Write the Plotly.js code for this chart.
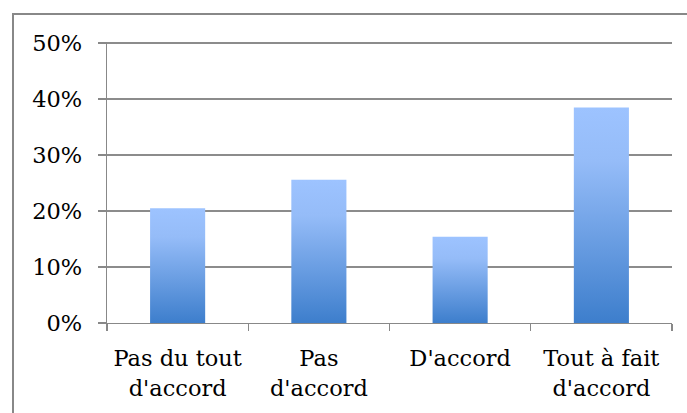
<!DOCTYPE html>
<html>
<head>
<meta charset="utf-8">
<script src="https://cdn.plot.ly/plotly-3.0.1.min.js"></script>
<style>
html,body{margin:0;padding:0;background:#fff;}
#frame{position:absolute;left:12px;top:13px;width:700px;height:420px;border-left:2px solid #888;border-top:2px solid #888;box-sizing:border-box;pointer-events:none;z-index:5;}
#chart{width:687px;height:413px;}
</style>
</head>
<body>
<div id="frame"></div>
<div id="chart"></div>
<script>
var categories = ["Pas du tout<br>d'accord", "Pas<br>d'accord", "D'accord", "Tout à fait<br>d'accord"];
var values = [0.205, 0.256, 0.154, 0.385];
var yTickValues = [0, 0.1, 0.2, 0.3, 0.4, 0.5];
var yTickLabels = ["0%", "10%", "20%", "30%", "40%", "50%"];

var font = {family: "DejaVu Serif, serif", size: 22.5, color: "#000"};

var trace = {
  type: "bar",
  x: categories,
  y: values,
  marker: {color: "#6a9ee8", line: {width: 0}},
  hoverinfo: "none"
};

var layout = {
  width: 687, height: 413,
  margin: {l: 107, r: 15, t: 42, b: 90},
  paper_bgcolor: "#fff",
  plot_bgcolor: "#fff",
  showlegend: false,
  bargap: 0.61,
  font: font,
  xaxis: {
    type: "category",
    tickson: "boundaries",
    ticks: "outside",
    ticklen: 7,
    tickcolor: "#888",
    tickwidth: 1.3,
    showline: true,
    linecolor: "#888",
    linewidth: 1.3,
    showgrid: false,
    tickfont: font,
    ticklabelstandoff: 15,
    fixedrange: true
  },
  yaxis: {
    range: [0, 0.502],
    tickvals: yTickValues,
    ticktext: yTickLabels,
    ticks: "outside",
    ticklen: 8,
    tickcolor: "#888",
    tickwidth: 1.3,
    showline: true,
    linecolor: "#888",
    linewidth: 1.3,
    showgrid: true,
    gridcolor: "#8c8c8c",
    gridwidth: 1.3,
    zeroline: false,
    tickfont: font,
    ticklabelstandoff: 11,
    fixedrange: true
  }
};

Plotly.newPlot("chart", [trace], layout, {staticPlot: true, displayModeBar: false}).then(function(gd){
  var svg = gd.querySelector("svg.main-svg");
  var ns = "http://www.w3.org/2000/svg";
  var defs = svg.querySelector("defs") || svg.insertBefore(document.createElementNS(ns, "defs"), svg.firstChild);
  var grad = document.createElementNS(ns, "linearGradient");
  grad.setAttribute("id", "barGrad");
  grad.setAttribute("x1", "0"); grad.setAttribute("y1", "0");
  grad.setAttribute("x2", "0"); grad.setAttribute("y2", "1");
  [["0", "#9dc3ff"], ["0.25", "#95bcf8"], ["1", "#3d7ecc"]].forEach(function(s){
    var st = document.createElementNS(ns, "stop");
    st.setAttribute("offset", s[0]);
    st.setAttribute("stop-color", s[1]);
    grad.appendChild(st);
  });
  defs.appendChild(grad);
  gd.querySelectorAll(".bars .point path").forEach(function(p){
    p.style.fill = "url(#barGrad)";
  });
});
</script>
</body>
</html>
